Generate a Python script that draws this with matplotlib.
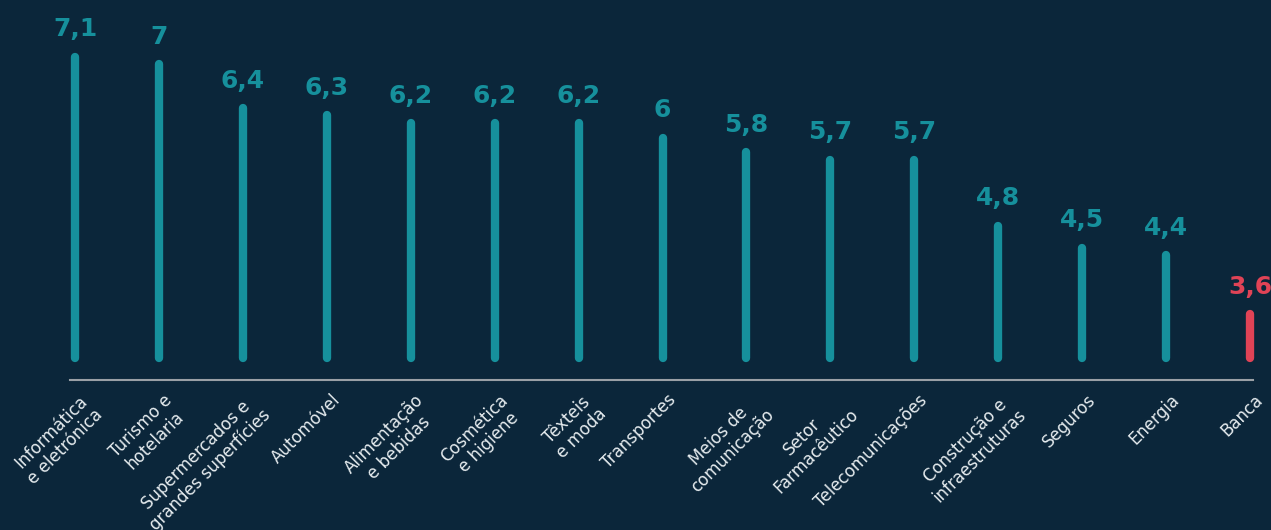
import matplotlib.pyplot as plt

## Data
sectors = ["Informática\ne eletrónica", "Turismo e\nhotelaria", "Supermercados e\ngrandes superfícies",
           "Automóvel", "Alimentação\ne bebidas", "Cosmética\ne higiene", "Têxteis\ne moda",
           "Transportes", "Meios de\ncomunicação", "Setor\nFarmacêutico", "Telecomunicações",
           "Construção e\ninfraestruturas", "Seguros", "Energia", "Banca"]
values = [7.1, 7.0, 6.4, 6.3, 6.2, 6.2, 6.2, 6.0, 5.8, 5.7, 5.7, 4.8, 4.5, 4.4, 3.6]
valueLabels = ["7,1", "7", "6,4", "6,3", "6,2", "6,2", "6,2", "6", "5,8", "5,7", "5,7", "4,8", "4,5", "4,4", "3,6"]

## Style
bgColor = "#0b263a"
teal = "#16909c"
red = "#e04356"
axisColor = "#9aa0a6"
baseVal = 3.0

plt.rcParams['font.family'] = ['DejaVu Sans']

fig = plt.figure(figsize=(12.71, 5.30), dpi=100)
fig.patch.set_facecolor(bgColor)
ax = fig.add_axes([0, 0, 1, 1])
ax.set_facecolor(bgColor)
ax.set_xlim(-0.894, 14.25)
ax.set_ylim(3 - 172/73.5, 3 + 358/73.5)
ax.axis('off')

for i, (v, lab) in enumerate(zip(values, valueLabels)):
    col = red if i == len(values) - 1 else teal
    ax.plot([i, i], [baseVal, v], color=col, lw=6, solid_capstyle='round')
    ax.annotate(lab, (i, v), xytext=(0, 11), textcoords='offset points',
                ha='center', va='bottom', fontsize=18, fontweight='heavy', color=col)

# Baseline axis
axisY = baseVal - 22/73.5
ax.plot([-0.06, 14.04], [axisY, axisY], color=axisColor, lw=1.5)

# Rotated category labels
for i, s in enumerate(sectors):
    ax.annotate(s, (i, axisY), xytext=(3, -8), textcoords='offset points',
                ha='right', va='top', rotation=45, rotation_mode='anchor',
                multialignment='center', fontsize=12, color="#e6ecef",
                linespacing=1.15)

fig.savefig("out.png", dpi=100, facecolor=bgColor)
